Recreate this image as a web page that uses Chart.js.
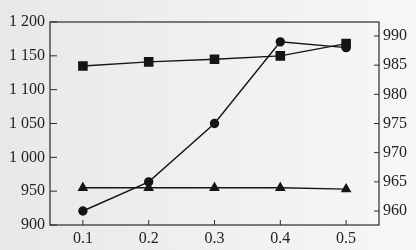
<!DOCTYPE html>
<html>
<head>
<meta charset="utf-8">
<script src="https://cdn.jsdelivr.net/npm/chart.js@4/dist/chart.umd.min.js"></script>
<style>
  html, body { margin: 0; padding: 0; }
  body { width: 416px; height: 250px; background: linear-gradient(to right, #e8e8e8, #f7f7f7); }
  #wrap { width: 416px; height: 250px; }
</style>
</head>
<body>
<div id="wrap"><canvas id="chart" width="416" height="250"></canvas></div>
<script>
// x categories
const xLabels = ['0.1', '0.2', '0.3', '0.4', '0.5'];
// left axis series
const squareVals = [1135, 1141, 1145, 1150, 1168];
const triangleVals = [955, 955, 955, 955, 953];
// right axis series
const circleVals = [960, 965, 975, 989, 988];
// tick values
const leftTicks = [900, 950, 1000, 1050, 1100, 1150, 1200];
const rightTicks = [960, 965, 970, 975, 980, 985, 990];

const ink = '#151515';

// frame round the plot and inward tick marks
const framePlugin = {
    id: 'frame',
    afterDraw(chart) {
        const ctx = chart.ctx;
        const a = chart.chartArea;
        ctx.save();
        ctx.strokeStyle = '#2a2a2a';
        ctx.lineWidth = 1.2;
        ctx.strokeRect(a.left, a.top, a.right - a.left, a.bottom - a.top);
        ctx.lineWidth = 1;
        ctx.beginPath();
        chart.scales.y.ticks.forEach(t => {
            const y = chart.scales.y.getPixelForValue(t.value);
            ctx.moveTo(a.left, y);
            ctx.lineTo(a.left + 7, y);
        });
        chart.scales.y1.ticks.forEach(t => {
            const y = chart.scales.y1.getPixelForValue(t.value);
            ctx.moveTo(a.right, y);
            ctx.lineTo(a.right - 5, y);
        });
        xLabels.forEach((l, i) => {
            const x = chart.scales.x.getPixelForValue(i);
            ctx.moveTo(x, a.bottom);
            ctx.lineTo(x, a.bottom - 5);
        });
        ctx.stroke();
        ctx.restore();
    }
};

const tickFont = { family: '"Liberation Serif", "DejaVu Serif", serif', size: 16 };

new Chart(document.getElementById('chart').getContext('2d'), {
    type: 'line',
    data: {
        labels: xLabels,
        datasets: [
            {
                data: squareVals,
                yAxisID: 'y',
                borderColor: ink,
                backgroundColor: ink,
                borderWidth: 1.4,
                pointStyle: 'rect',
                pointRadius: 5.8,
                tension: 0
            },
            {
                data: triangleVals,
                yAxisID: 'y',
                borderColor: ink,
                backgroundColor: ink,
                borderWidth: 1.4,
                pointStyle: 'triangle',
                pointRadius: 4.8,
                tension: 0
            },
            {
                data: circleVals,
                yAxisID: 'y1',
                borderColor: ink,
                backgroundColor: ink,
                borderWidth: 1.4,
                pointStyle: 'circle',
                pointRadius: 4,
                tension: 0
            }
        ]
    },
    options: {
        responsive: false,
        animation: false,
        layout: { padding: { top: 22, left: 0, right: 0, bottom: 0 } },
        plugins: {
            legend: { display: false },
            tooltip: { enabled: false }
        },
        scales: {
            x: {
                type: 'category',
                offset: true,
                grid: { display: false, drawTicks: false },
                border: { display: false },
                ticks: { color: '#222', font: tickFont, padding: 4, maxRotation: 0 },
                afterFit(scale) { scale.height = 25; }
            },
            y: {
                position: 'left',
                min: 900,
                max: 1200,
                grid: { display: false, drawTicks: false },
                border: { display: false },
                afterBuildTicks(scale) { scale.ticks = leftTicks.map(v => ({ value: v })); },
                ticks: {
                    color: '#222',
                    font: tickFont,
                    padding: 5,
                    callback: v => v >= 1000 ? Math.floor(v / 1000) + ' ' + String(v % 1000).padStart(3, '0') : String(v)
                },
                afterFit(scale) { scale.width = 50; }
            },
            y1: {
                position: 'right',
                min: 957.6,
                max: 992.4,
                grid: { display: false, drawTicks: false },
                border: { display: false },
                afterBuildTicks(scale) { scale.ticks = rightTicks.map(v => ({ value: v })); },
                ticks: { color: '#222', font: tickFont, padding: 4 },
                afterFit(scale) { scale.width = 37; }
            }
        }
    },
    plugins: [framePlugin]
});
</script>
</body>
</html>
